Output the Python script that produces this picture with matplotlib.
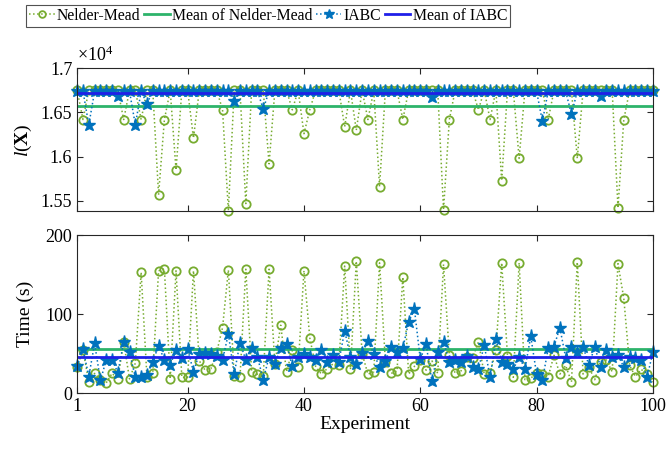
import numpy as np
import matplotlib
matplotlib.use('Agg')
import matplotlib.pyplot as plt
from matplotlib.ticker import FuncFormatter

plt.rcParams['font.family'] = ['Liberation Serif', 'DejaVu Serif']
plt.rcParams['mathtext.fontset'] = 'custom'
plt.rcParams['mathtext.rm'] = 'Liberation Serif'
plt.rcParams['mathtext.it'] = 'Liberation Serif:italic'
plt.rcParams['mathtext.bf'] = 'Liberation Serif:bold'

experiments = np.arange(1, 101)

# objective value l(X)
nm_obj = [16750, 16420, 16750, 16750, 16750, 16750, 16750, 16750, 16420, 16750,
          16750, 16420, 16750, 16750, 15570, 16420, 16750, 15850, 16750, 16750,
          16210, 16750, 16750, 16750, 16750, 16530, 15390, 16750, 16750, 15470,
          16750, 16750, 16750, 15920, 16750, 16750, 16750, 16530, 16750, 16260,
          16530, 16750, 16750, 16750, 16750, 16750, 16340, 16750, 16300, 16750,
          16420, 16750, 15660, 16750, 16750, 16750, 16420, 16750, 16750, 16750,
          16750, 16750, 16750, 15400, 16420, 16750, 16750, 16750, 16750, 16530,
          16750, 16420, 16750, 15730, 16750, 16750, 15980, 16750, 16750, 16750,
          16750, 16420, 16750, 16750, 16750, 16750, 15980, 16750, 16750, 16750,
          16750, 16750, 16750, 15420, 16420, 16750, 16750, 16750, 16750, 16750]
iabc_obj = [16740, 16740, 16360, 16740, 16740, 16740, 16740, 16690, 16740, 16740,
            16360, 16740, 16600, 16740, 16740, 16740, 16740, 16740, 16740, 16740,
            16740, 16740, 16740, 16740, 16740, 16740, 16740, 16630, 16740, 16740,
            16740, 16740, 16540, 16740, 16740, 16740, 16740, 16740, 16740, 16740,
            16740, 16740, 16740, 16740, 16740, 16740, 16740, 16740, 16740, 16740,
            16740, 16740, 16740, 16740, 16740, 16740, 16740, 16740, 16740, 16740,
            16740, 16670, 16740, 16740, 16740, 16740, 16740, 16740, 16740, 16740,
            16740, 16740, 16740, 16740, 16740, 16740, 16740, 16740, 16740, 16740,
            16400, 16740, 16740, 16740, 16740, 16480, 16740, 16740, 16740, 16740,
            16690, 16740, 16740, 16740, 16740, 16740, 16740, 16740, 16740, 16740]

# run time (s)
nm_time = [33, 55, 14, 25, 17, 13, 25, 18, 65, 18,
           38, 153, 20, 25, 155, 157, 18, 155, 20, 20,
           155, 41, 29, 31, 52, 83, 156, 22, 20, 157,
           27, 24, 22, 157, 37, 86, 27, 54, 33, 155,
           70, 34, 24, 31, 37, 36, 161, 30, 167, 50,
           24, 27, 165, 40, 25, 28, 147, 24, 34, 42,
           29, 41, 25, 163, 48, 25, 28, 46, 45, 65,
           24, 25, 54, 165, 47, 20, 165, 17, 19, 25,
           24, 21, 48, 24, 35, 14, 166, 24, 33, 17,
           40, 42, 27, 164, 120, 35, 21, 30, 24, 14]
iabc_time = [34, 56, 21, 63, 16, 42, 42, 26, 65, 52,
             20, 20, 23, 40, 60, 42, 36, 54, 44, 56,
             27, 50, 51, 49, 47, 42, 75, 24, 64, 42,
             57, 46, 17, 46, 37, 57, 62, 34, 46, 50,
             46, 42, 55, 40, 48, 40, 79, 46, 37, 51,
             66, 50, 33, 41, 59, 52, 57, 90, 106, 43,
             62, 15, 52, 65, 40, 42, 40, 47, 33, 30,
             61, 20, 68, 40, 37, 30, 46, 31, 72, 24,
             16, 57, 59, 83, 45, 59, 52, 59, 35, 59,
             33, 55, 46, 48, 33, 46, 44, 42, 20, 52]

c_nm = '#77AC30'
c_nm_mean = '#2DB36A'
c_iabc = '#0072BD'
c_iabc_mean = '#1F1FE8'

fig = plt.figure(figsize=(6.71, 4.55), dpi=100)
ax1 = fig.add_axes([0.115, 0.536, 0.858, 0.314])
ax2 = fig.add_axes([0.115, 0.136, 0.858, 0.347])

def draw(ax, nm, iabc):
    h1, = ax.plot(experiments, nm, ':', color=c_nm, lw=1.1, marker='o', ms=6,
                  mfc='none', mec=c_nm, mew=1.3, clip_on=False)
    h2 = ax.axhline(np.mean(nm), color=c_nm_mean, lw=2.0)
    h3, = ax.plot(experiments, iabc, ':', color=c_iabc, lw=1.1, marker='*', ms=9.5,
                  mfc=c_iabc, mec=c_iabc, clip_on=False)
    h4 = ax.axhline(np.mean(iabc), color=c_iabc_mean, lw=2.0)
    ax.set_xlim(1, 100)
    ax.set_xticks([1, 20, 40, 60, 80, 100])
    ax.tick_params(direction='in', top=True, right=True, labelsize=13,
                   length=4, color='#262626')
    for s in ax.spines.values():
        s.set_color('#262626')
        s.set_linewidth(0.8)
    return [h1, h2, h3, h4]

handles = draw(ax1, nm_obj, iabc_obj)
ax1.set_ylim(15385, 17000)
ax1.set_yticks([15500, 16000, 16500, 17000])
ax1.yaxis.set_major_formatter(FuncFormatter(lambda v, p: f'{v / 1e4:g}'))
ax1.set_xticklabels([])
ax1.set_ylabel(r'$l(\mathbf{X})$', fontsize=14)
ax1.text(0.0, 1.02, r'$\times10^4$', transform=ax1.transAxes, fontsize=13,
         ha='left', va='bottom')

draw(ax2, nm_time, iabc_time)
ax2.set_ylim(0, 200)
ax2.set_yticks([0, 100, 200])
ax2.set_ylabel('Time (s)', fontsize=14)
ax2.set_xlabel('Experiment', fontsize=14, labelpad=1)

ax1.yaxis.set_label_coords(-0.075, 0.5)
ax2.yaxis.set_label_coords(-0.075, 0.5)

leg = fig.legend(handles, ['Nelder-Mead', 'Mean of Nelder-Mead', 'IABC', 'Mean of IABC'],
                 loc='upper center', bbox_to_anchor=(0.40, 0.99), ncol=4,
                 fontsize=11.3, frameon=True, fancybox=False, handlelength=1.6,
                 handletextpad=0.15, columnspacing=0.25, borderpad=0.2,
                 borderaxespad=0.0, markerscale=0.8)
leg.get_frame().set_edgecolor('#262626')
leg.get_frame().set_linewidth(0.8)

fig.savefig('out.png', dpi=100)
